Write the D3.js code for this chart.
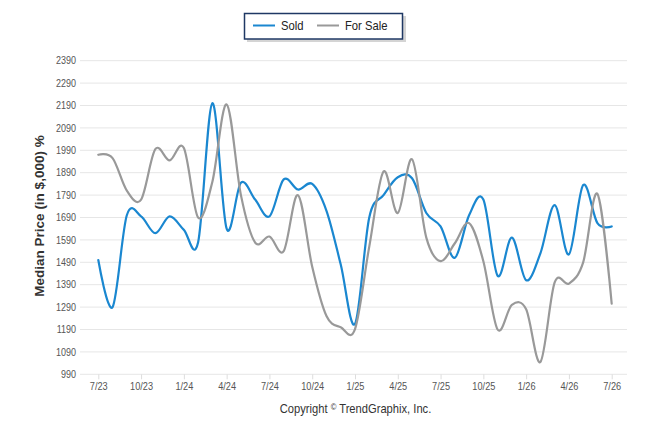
<!DOCTYPE html>
<html><head><meta charset="utf-8">
<script src="https://cdn.jsdelivr.net/npm/d3@7"></script>
<style>
html,body{margin:0;padding:0;background:#fff;}
svg{display:block;}
</style></head>
<body>
<svg id="chart" width="646" height="434"></svg>
<script>
const months = ["7/23","8/23","9/23","10/23","11/23","12/23","1/24","2/24","3/24","4/24","5/24","6/24","7/24","8/24","9/24","10/24","11/24","12/24","1/25","2/25","3/25","4/25","5/25","6/25","7/25","8/25","9/25","10/25","11/25","12/25","1/26","2/26","3/26","4/26","5/26","6/26","7/26"];
const sold = [1500,1290,1700,1695,1620,1695,1635,1580,2200,1640,1845,1770,1695,1860,1815,1840,1720,1480,1215,1690,1790,1870,1865,1710,1650,1510,1700,1770,1430,1600,1410,1530,1745,1525,1835,1665,1650];
const forSale = [1970,1955,1810,1770,1995,1945,2000,1690,1850,2195,1790,1578,1605,1540,1790,1470,1250,1200,1192,1560,1895,1710,1950,1600,1495,1575,1665,1495,1190,1300,1280,1045,1400,1395,1490,1795,1305];
const yTicks = [990,1090,1190,1290,1390,1490,1590,1690,1790,1890,1990,2090,2190,2290,2390];
const xTickLabels = ["7/23","10/23","1/24","4/24","7/24","10/24","1/25","4/25","7/25","10/25","1/26","4/26","7/26"];
const seriesNames = ["Sold","For Sale"];
const colors = ["#1a87d0","#999999"];

const svg = d3.select("#chart");
const font = "'Liberation Sans',Arial,sans-serif";

const x = d3.scalePoint().domain(months).range([98.3, 611.7]);
const y = d3.scaleLinear().domain([990, 2390]).range([374.3, 60.7]);

// grid
const grid = svg.append("g");
grid.selectAll("line").data(yTicks).join("line")
  .attr("x1", 80).attr("x2", 627)
  .attr("y1", d => y(d)).attr("y2", d => y(d))
  .attr("stroke", "#e6e6e6").attr("stroke-width", 1);

// y axis labels
const yAxis = d3.axisLeft(y).tickValues(yTicks).tickSize(0).tickPadding(0).tickFormat(d3.format("d"));
const yg = svg.append("g").attr("transform", "translate(76,0)").call(yAxis);
yg.select(".domain").remove();
yg.selectAll("text").attr("fill", "#555").attr("transform", "scale(0.9,1)")
  .style("font-family", font).style("font-size", "10px");

// x axis
const xAxis = d3.axisBottom(x).tickValues(xTickLabels).tickSize(5).tickPadding(4);
const xg = svg.append("g").attr("transform", `translate(0,${y(990)})`).call(xAxis);
xg.select(".domain").remove();
xg.selectAll(".tick line").attr("stroke", "#dddddd");
xg.selectAll("text").attr("fill", "#555").attr("transform", "scale(0.92,1)")
  .style("font-family", font).style("font-size", "10px");

// lines
const line = d3.line().x((d, i) => x(months[i])).y(d => y(d)).curve(d3.curveCardinal.tension(0));
[sold, forSale].forEach((s, k) => {
  svg.append("path").datum(s).attr("d", line)
    .attr("fill", "none").attr("stroke", colors[k]).attr("stroke-width", 2.2)
    .attr("stroke-linejoin", "round").attr("stroke-linecap", "round");
});

// y title
svg.append("text").attr("transform", "translate(44,216) rotate(-90)")
  .attr("text-anchor", "middle").attr("fill", "#333")
  .style("font-family", font).style("font-size", "13.5px").style("font-weight", "bold")
  .text("Median Price (in $,000) %");

// legend
const lg = svg.append("g");
lg.append("rect").attr("x", 247).attr("y", 16).attr("width", 159).attr("height", 26).attr("fill", "#aaa").attr("opacity", 0.5);
lg.append("rect").attr("x", 244.5).attr("y", 13.5).attr("width", 158).attr("height", 25.5).attr("fill", "#fff").attr("stroke", "#1f3864").attr("stroke-width", 1.5);
const items = [{x: 253, tx: 281}, {x: 317, tx: 345}];
items.forEach((it, k) => {
  lg.append("line").attr("x1", it.x).attr("x2", it.x + 22).attr("y1", 25.5).attr("y2", 25.5)
    .attr("stroke", colors[k]).attr("stroke-width", 2);
  lg.append("text").attr("transform", `translate(${it.tx},30) scale(0.9,1)`).attr("fill", "#222")
    .style("font-family", font).style("font-size", "12.5px").text(seriesNames[k]);
});

// copyright
const cp = svg.append("text").attr("transform", "translate(355.5,413.3) scale(0.86,1)")
  .attr("text-anchor", "middle").attr("fill", "#333")
  .style("font-family", font).style("font-size", "13px");
cp.append("tspan").text("Copyright ");
cp.append("tspan").style("font-size", "9px").attr("dy", -3).text("©");
cp.append("tspan").attr("dy", 3).text(" TrendGraphix, Inc.");
</script>
</body></html>
